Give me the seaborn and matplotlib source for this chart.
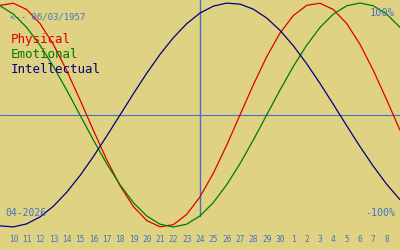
import matplotlib
matplotlib.use("Agg")
import matplotlib.pyplot as plt
import seaborn as sns
import pandas as pd

# Day index -1 .. 29 (index 0 = 10 April 2026)
day_index = list(range(-1, 30))
physical = [0.979, 0.998, 0.942, 0.817, 0.631, 0.398, 0.136, -0.136, -0.398, -0.631,
            -0.817, -0.942, -0.998, -0.979, -0.888, -0.731, -0.520, -0.270, 0.000, 0.270,
            0.520, 0.731, 0.888, 0.979, 0.998, 0.942, 0.817, 0.631, 0.398, 0.136, -0.136]
emotional = [0.975, 0.901, 0.782, 0.623, 0.434, 0.223, 0.000, -0.223, -0.434, -0.623,
             -0.782, -0.901, -0.975, -1.000, -0.975, -0.901, -0.782, -0.623, -0.434, -0.223,
             0.000, 0.223, 0.434, 0.623, 0.782, 0.901, 0.975, 1.000, 0.975, 0.901, 0.782]
intellectual = [-0.990, -0.999, -0.972, -0.910, -0.815, -0.690, -0.541, -0.372, -0.189, 0.000,
                0.189, 0.372, 0.541, 0.690, 0.815, 0.910, 0.972, 0.999, 0.990, 0.945,
                0.866, 0.756, 0.618, 0.458, 0.282, 0.095, -0.095, -0.282, -0.458, -0.618, -0.756]
series_names = ["Physical", "Emotional", "Intellectual"]
tick_labels = ["10", "11", "12", "13", "14", "15", "16", "17", "18", "19", "20", "21",
               "22", "23", "24", "25", "26", "27", "28", "29", "30", "1", "2", "3", "4",
               "5", "6", "7", "8"]
today_index = 14
birth_text = "<-- 06/03/1957"
month_text = "04-2026"

BG = "#E0D283"
TXT = "#4174C2"
colors = {"Physical": "#DD0000", "Emotional": "#007A00", "Intellectual": "#00007E"}

rows = []
for name, vals in zip(series_names, [physical, emotional, intellectual]):
    for i, v in zip(day_index, vals):
        rows.append({"idx": i, "value": v, "series": name})
df = pd.DataFrame(rows)

sns.set_style("white")
plt.rcParams["font.family"] = ["DejaVu Sans Mono", "DejaVu Sans"]

fig = plt.figure(figsize=(4, 2.5), dpi=100)
fig.patch.set_facecolor(BG)
ax = fig.add_axes([0, 20 / 250, 1, 230 / 250])
ax.set_facecolor(BG)

ax.axhline(0, color=TXT, lw=0.8, zorder=1)
ax.axvline(today_index, ymin=0.061, ymax=1, color=TXT, lw=1.0, zorder=1)

sns.lineplot(data=df, x="idx", y="value", hue="series", palette=colors,
             hue_order=series_names, linewidth=0.9, legend=False, errorbar=None,
             ax=ax, zorder=3)

ax.set_xlim(-1, 29)
ax.set_ylim(-1.0268, 1.0268)
for s in ax.spines.values():
    s.set_visible(False)
ax.set_xticks(range(len(tick_labels)))
ax.set_xticklabels(tick_labels)
ax.set_yticks([])
ax.set_xlabel("")
ax.set_ylabel("")
ax.tick_params(axis="x", direction="in", length=3.6, width=0.8, color=TXT,
               labelcolor=TXT, labelsize=5.7, pad=3.5)

def px(x, y):
    return x / 400, 1 - y / 250

fig.text(*px(10, 20), birth_text, color=TXT, fontsize=6.5, ha="left", va="baseline")
for name, yb in zip(series_names, [43, 58.3, 73.3]):
    fig.text(*px(10.5, yb), name, color=colors[name], fontsize=9, ha="left", va="baseline")
fig.text(*px(395, 16), "100%", color=TXT, fontsize=7.5, ha="right", va="baseline")
fig.text(*px(395, 216), "-100%", color=TXT, fontsize=7.2, ha="right", va="baseline")
fig.text(*px(5, 216), month_text, color=TXT, fontsize=7, ha="left", va="baseline")

fig.savefig("out.png", dpi=100, facecolor=BG)
